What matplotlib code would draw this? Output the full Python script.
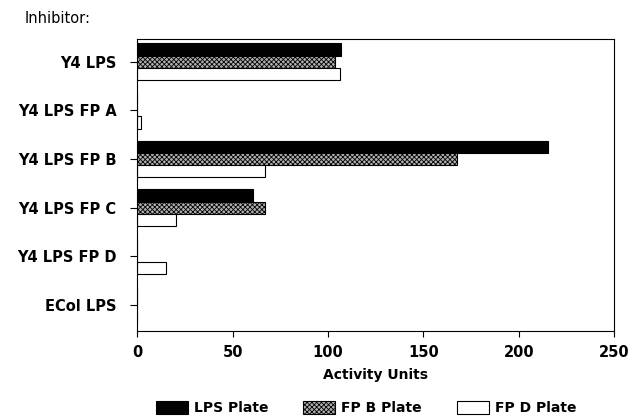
import matplotlib.pyplot as plt
import numpy as np

plt.rcParams['font.family'] = ['DejaVu Sans']
plt.rcParams['hatch.linewidth'] = 0.6

# Data
inhibitors = ["Y4 LPS", "Y4 LPS FP A", "Y4 LPS FP B", "Y4 LPS FP C", "Y4 LPS FP D", "ECol LPS"]
lps_plate = [107, 0, 215.5, 60.5, 0, 0]
fpb_plate = [103.5, 0, 167.5, 67, 0, 0]
fpd_plate = [106.5, 1.8, 67, 20, 14.8, 0]
series_names = ["LPS Plate", "FP B Plate", "FP D Plate"]
x_ticks = [0, 50, 100, 150, 200, 250]

fig = plt.figure(figsize=(6.39, 4.18), dpi=100)
ax = fig.add_axes([0.215, 0.209, 0.746, 0.698])

pos = np.arange(len(inhibitors))
h = 0.25
ax.barh(pos - h, lps_plate, height=h, color="black", edgecolor="black",
        linewidth=0.8, label=series_names[0])
ax.barh(pos, fpb_plate, height=h, color="#b0b0b0", edgecolor="black",
        hatch="xxxxxxx", linewidth=0.8, label=series_names[1])
ax.barh(pos + h, fpd_plate, height=h, color="white", edgecolor="black",
        linewidth=0.8, label=series_names[2])

ax.set_xlim(0, 250)
ax.set_ylim(5.53, -0.47)
ax.set_yticks(pos)
ax.set_yticklabels(inhibitors, fontsize=10.5, fontweight="bold")
ax.set_xticks(x_ticks)
ax.set_xticklabels([str(t) for t in x_ticks], fontsize=10.5, fontweight="bold")
ax.tick_params(axis="y", length=5, width=0.8, pad=10)
ax.tick_params(axis="x", length=4, width=0.8, pad=6)
for s in ax.spines.values():
    s.set_linewidth(0.8)

ax.set_xlabel("Activity Units", fontsize=10, fontweight="bold", labelpad=6)
fig.text(0.038, 0.955, "Inhibitor:", fontsize=10.5, ha="left", va="center")

fig.legend(loc="center", bbox_to_anchor=(0.573, 0.024), ncol=3, frameon=False,
           prop={"size": 10, "weight": "bold"}, handlelength=2.3,
           handleheight=1.05, handletextpad=0.45, columnspacing=2.5,
           borderaxespad=0)

fig.savefig("out.png", dpi=100)
